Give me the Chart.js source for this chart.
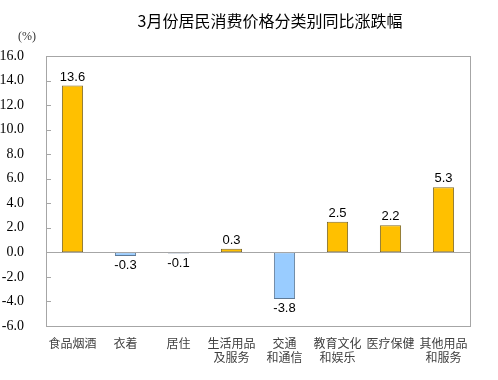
<!DOCTYPE html>
<html>
<head>
<meta charset="utf-8">
<script src="https://cdn.jsdelivr.net/npm/chart.js@4/dist/chart.umd.min.js"></script>
<style>
  html, body { margin: 0; padding: 0; background: #fff; }
  #wrap { width: 498px; height: 380px; }
</style>
</head>
<body>
<div id="wrap"><canvas id="cpiChart" width="498" height="380"></canvas></div>
<script>
const categories = ['食品烟酒', '衣着', '居住', ['生活用品', '及服务'], ['交通', '和通信'], ['教育文化', '和娱乐'], '医疗保健', ['其他用品', '和服务']];
const changes = [13.6, -0.3, -0.1, 0.3, -3.8, 2.5, 2.2, 5.3];
const yTicks = [16, 14, 12, 10, 8, 6, 4, 2, 0, -2, -4, -6];
const chartTitle = '3月份居民消费价格分类别同比涨跌幅';

// 标题、单位、边框、刻度线、零线和数值标签
const decorPlugin = {
    id: 'decor',
    afterDatasetsDraw(chart) {
        const ctx = chart.ctx;
        const area = chart.chartArea;
        const y = chart.scales.y;
        ctx.save();
        ctx.strokeStyle = '#A6A6A6';
        ctx.lineWidth = 1;
        ctx.strokeRect(Math.round(area.left) + 0.5, Math.round(area.top) + 0.5,
            Math.round(area.right - area.left), Math.round(area.bottom - area.top));
        const zy = Math.round(y.getPixelForValue(0)) + 0.5;
        ctx.beginPath();
        ctx.moveTo(area.left, zy);
        ctx.lineTo(area.right, zy);
        // 向内的刻度线
        yTicks.forEach(v => {
            const ty = Math.round(y.getPixelForValue(v)) + 0.5;
            ctx.moveTo(Math.round(area.left), ty);
            ctx.lineTo(Math.round(area.left) + 5, ty);
        });
        ctx.stroke();

        ctx.fillStyle = '#000';
        ctx.font = '13px "Liberation Sans", Arial, sans-serif';
        ctx.textAlign = 'center';
        const meta = chart.getDatasetMeta(0);
        meta.data.forEach((bar, i) => {
            const v = changes[i];
            if (v >= 0) {
                ctx.textBaseline = 'bottom';
                ctx.fillText(v.toFixed(1), bar.x, bar.y - 2);
            } else {
                ctx.textBaseline = 'top';
                ctx.fillText(v.toFixed(1), bar.x, bar.y + 3);
            }
        });

        ctx.fillStyle = '#000';
        ctx.font = '16px "Noto Sans CJK SC", sans-serif';
        ctx.textBaseline = 'middle';
        ctx.fillText(chartTitle, 270, 21);
        ctx.fillStyle = '#333';
        ctx.font = '12px "Liberation Serif", serif';
        ctx.fillText('(%)', 27, 37);
        ctx.restore();
    }
};

new Chart(document.getElementById('cpiChart').getContext('2d'), {
    type: 'bar',
    data: {
        labels: categories,
        datasets: [{
            data: changes,
            backgroundColor: changes.map(v => v >= 0 ? '#FFC000' : '#99CCFF'),
            borderColor: changes.map(v => v >= 0 ? '#7F6A2A' : '#5F7A96'),
            borderWidth: 1,
            borderSkipped: false,
            barPercentage: 0.4,
            categoryPercentage: 1
        }]
    },
    options: {
        responsive: false,
        animation: false,
        layout: { padding: { top: 56, right: 28, bottom: 0, left: 0 } },
        plugins: {
            legend: { display: false },
            title: { display: false },
            tooltip: { enabled: false }
        },
        scales: {
            x: {
                grid: { display: false },
                border: { display: false },
                ticks: {
                    color: '#404040',
                    font: { family: '"Noto Sans CJK SC", sans-serif', size: 12 },
                    padding: 2,
                    maxRotation: 0,
                    autoSkip: false
                },
                afterFit(scale) { scale.height = 54; }
            },
            y: {
                min: -6,
                max: 16,
                afterBuildTicks(scale) {
                    scale.ticks = yTicks.map(v => ({ value: v }));
                },
                grid: { display: false },
                border: { display: false },
                ticks: {
                    color: '#000',
                    font: { family: '"Liberation Serif", "Times New Roman", serif', size: 14 },
                    padding: 14,
                    callback: v => v.toFixed(1)
                },
                afterFit(scale) { scale.width = 46; }
            }
        }
    },
    plugins: [decorPlugin]
});
</script>
</body>
</html>
